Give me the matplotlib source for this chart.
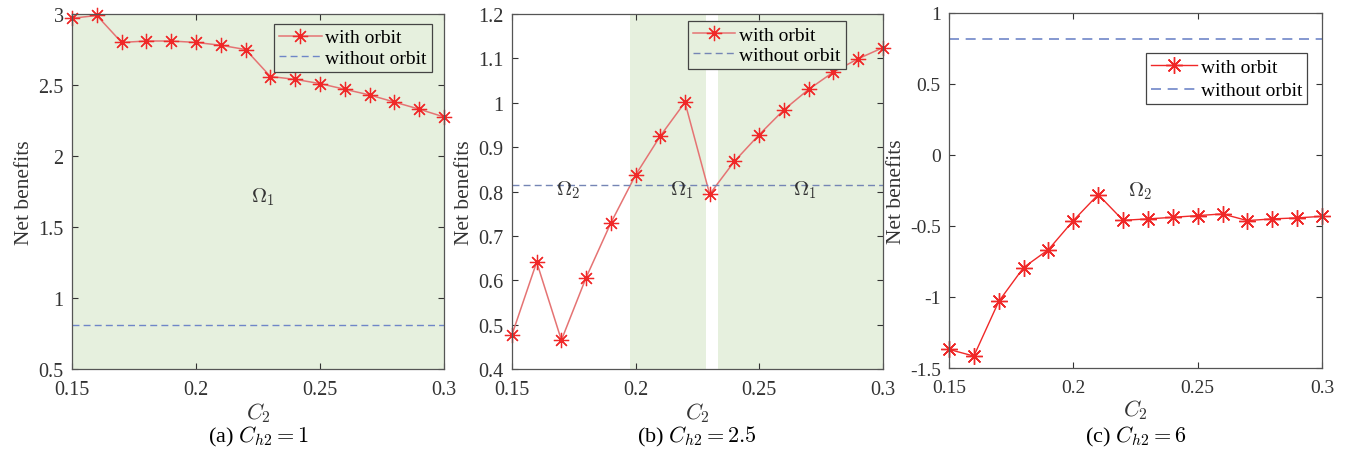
import numpy as np
import matplotlib
matplotlib.use("Agg")
import matplotlib.pyplot as plt

plt.rcParams['font.family'] = ['Liberation Serif', 'DejaVu Serif']
plt.rcParams['mathtext.fontset'] = 'cm'

c2 = [0.15, 0.16, 0.17, 0.18, 0.19, 0.20, 0.21, 0.22,
      0.23, 0.24, 0.25, 0.26, 0.27, 0.28, 0.29, 0.30]

# (a) C_h2 = 1
with_a = [2.97, 2.99, 2.80, 2.81, 2.81, 2.80, 2.78, 2.75,
          2.56, 2.54, 2.51, 2.47, 2.43, 2.38, 2.33, 2.275]
without_a = 0.81

# (b) C_h2 = 2.5
with_b = [0.477, 0.641, 0.465, 0.606, 0.729, 0.837, 0.925, 1.001,
          0.794, 0.868, 0.928, 0.984, 1.030, 1.069, 1.099, 1.124]
without_b = 0.815
shade_b = [(0.1977, 0.2286), (0.2334, 0.30)]

# (c) C_h2 = 6
with_c = [-1.369, -1.416, -1.032, -0.793, -0.667, -0.463, -0.280, -0.461,
          -0.451, -0.440, -0.428, -0.416, -0.463, -0.451, -0.444, -0.433]
without_c = 0.813

GREEN = '#e6f0de'
RED_SOFT = '#e57373'
RED = '#f02828'
BLUE = '#6f86c8'
AXC = '#555555'
ASTER = (8, 2, 0)

fig = plt.figure(figsize=(13.48, 4.64), dpi=100)
ax_a = fig.add_axes([0.0534, 0.2026, 0.276, 0.765])
ax_b = fig.add_axes([0.3798, 0.2026, 0.275, 0.765])
ax_c = fig.add_axes([0.704, 0.2047, 0.2767, 0.766])


def style(ax, ylim, yticks, yticklabels, fs=14.5):
    ax.set_xlim(0.15, 0.30)
    ax.set_ylim(*ylim)
    ax.set_xticks([0.15, 0.2, 0.25, 0.3])
    ax.set_xticklabels(['0.15', '0.2', '0.25', '0.3'])
    ax.set_yticks(yticks)
    ax.set_yticklabels(yticklabels)
    ax.tick_params(direction='in', top=True, right=True, labelsize=fs,
                   colors='#333333', length=4, width=0.8)
    ax.tick_params(axis='x', pad=8)
    ax.tick_params(axis='y', pad=6)
    for s in ax.spines.values():
        s.set_color(AXC)
        s.set_linewidth(0.9)
    ax.set_xlabel('$C_2$', fontsize=16, color='#333333', labelpad=1)
    ax.set_ylabel('Net benefits', fontsize=15.5, color='#333333', labelpad=3)


def legend(ax, face, anchor, hl, sp=0.15):
    leg = ax.legend(loc='upper right', bbox_to_anchor=anchor, fontsize=14, frameon=True,
                    fancybox=False, edgecolor='#444444', facecolor=face, framealpha=1,
                    handlelength=hl, borderpad=0.25, labelspacing=sp, handletextpad=0.2,
                    borderaxespad=0)
    leg.get_frame().set_linewidth(0.9)


# panel a
ax_a.set_facecolor(GREEN)
ax_a.plot(c2, with_a, '-', color=RED_SOFT, lw=1.1, marker=ASTER,
          markersize=11, markeredgecolor=RED, markeredgewidth=0.9,
          label='with orbit', clip_on=False)
ax_a.axhline(without_a, color=BLUE, lw=1.0, ls=(0, (5, 3)), label='without orbit')
style(ax_a, (0.5, 3), [0.5, 1, 1.5, 2, 2.5, 3], ['0.5', '1', '1.5', '2', '2.5', '3'])
ax_a.text(0.227, 1.72, r'$\Omega_1$', fontsize=15, ha='center', va='center', color='#333333')
legend(ax_a, GREEN, (0.967, 0.972), 2.2)
ax_a.text(0.5, -0.19, r'(a) $C_{h2}=1$', transform=ax_a.transAxes, fontsize=16,
          ha='center', va='center')

# panel b
for x0, x1 in shade_b:
    ax_b.axvspan(x0, x1, color=GREEN, lw=0, zorder=0)
ax_b.plot(c2, with_b, '-', color=RED_SOFT, lw=1.1, marker=ASTER,
          markersize=11, markeredgecolor=RED, markeredgewidth=0.9,
          label='with orbit', clip_on=False)
ax_b.axhline(without_b, color='#7585b5', lw=1.0, ls=(0, (5, 3)), label='without orbit')
style(ax_b, (0.4, 1.2), [0.4, 0.5, 0.6, 0.7, 0.8, 0.9, 1, 1.1, 1.2],
      ['0.4', '0.5', '0.6', '0.7', '0.8', '0.9', '1', '1.1', '1.2'])
for xl, lab in [(0.1728, r'$\Omega_2$'), (0.219, r'$\Omega_1$'), (0.2686, r'$\Omega_1$')]:
    ax_b.text(xl, 0.805, lab, fontsize=15, ha='center', va='center', color='#333333')
legend(ax_b, GREEN, (0.9, 0.98), 2.2)
ax_b.text(0.5, -0.19, r'(b) $C_{h2}=2.5$', transform=ax_b.transAxes, fontsize=16,
          ha='center', va='center')

# panel c
ax_c.plot(c2, with_c, '-', color=RED, lw=1.0, marker=ASTER,
          markersize=12, markeredgecolor=RED, markeredgewidth=1.0,
          label='with orbit', clip_on=False)
ax_c.axhline(without_c, color=BLUE, lw=1.2, ls=(0, (6, 4)), label='without orbit')
style(ax_c, (-1.5, 1), [-1.5, -1, -0.5, 0, 0.5, 1], ['-1.5', '-1', '-0.5', '0', '0.5', '1'], fs=14)
ax_c.text(0.2268, -0.25, r'$\Omega_2$', fontsize=15, ha='center', va='center', color='#333333')
legend(ax_c, 'white', (0.961, 0.885), 2.4, sp=0.3)
ax_c.text(0.5, -0.19, r'(c) $C_{h2}=6$', transform=ax_c.transAxes, fontsize=16,
          ha='center', va='center')

fig.savefig('out.png', dpi=100)
